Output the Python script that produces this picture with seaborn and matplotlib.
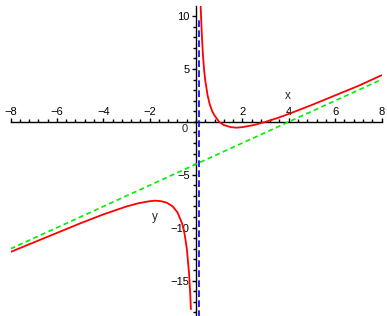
import matplotlib
matplotlib.use("Agg")
import matplotlib.pyplot as plt
import seaborn as sns
import pandas as pd
from matplotlib.ticker import MultipleLocator, FixedLocator

# ---- data ----
right_x = [0.2, 0.25, 0.3, 0.35, 0.4, 0.5, 0.6, 0.7, 0.8, 1.0, 1.2, 1.5, 1.75,
           2.0, 2.5, 3.0, 3.5, 4.0, 5.0, 6.0, 7.0, 8.0]
right_y = [10.9, 8.3, 6.3, 4.9, 3.9, 2.5, 1.6, 1.0, 0.6, 0.0, -0.3, -0.5, -0.55,
           -0.5, -0.3, 0.0, 0.35, 0.75, 1.6, 2.5, 3.4, 4.4]
left_x = [-8.0, -7.0, -6.0, -5.0, -4.0, -3.0, -2.5, -2.0, -1.75, -1.5, -1.25,
          -1.0, -0.8, -0.6, -0.5, -0.4, -0.3, -0.25, -0.22]
left_y = [-12.3, -11.4, -10.5, -9.6, -8.75, -8.0, -7.7, -7.5, -7.45, -7.5, -7.65,
          -8.0, -8.55, -9.6, -10.5, -11.9, -14.3, -16.2, -17.7]
slant_x = [-8.0, 8.0]
slant_y = [-12.0, 4.0]
vert_x = [0.12, 0.12]
vert_y = [-19.0, 9.6]
x_ticks = [-8, -6, -4, -2, 2, 4, 6, 8]
y_ticks = [-15, -10, -5, 5, 10]
x_range = [-8, 8]
y_range = [-18.35, 10.95]

sns.set_style("white")
plt.rcParams['font.family'] = ['Liberation Sans', 'DejaVu Sans']

fig = plt.figure(figsize=(3.87, 3.16), dpi=100)
ax = fig.add_axes([10.5 / 387, 0, 371 / 387, 310 / 316])
ax.set_xlim(*x_range)
ax.set_ylim(*y_range)
ax.patch.set_alpha(0)

sns.lineplot(x=slant_x, y=slant_y, ax=ax, color='#00f000', lw=1.2,
             linestyle=(0, (3, 2)), sort=False, estimator=None, zorder=3)
sns.lineplot(x=vert_x, y=vert_y, ax=ax, color='#0000ff', lw=1.2,
             linestyle=(0, (4, 2)), sort=False, estimator=None, zorder=3)
sns.lineplot(x=left_x, y=left_y, ax=ax, color='#ff0000', lw=1.3,
             sort=False, estimator=None, zorder=4)
sns.lineplot(x=right_x, y=right_y, ax=ax, color='#ff0000', lw=1.3,
             sort=False, estimator=None, zorder=4)

# axes through the origin
ax.spines['bottom'].set_visible(False)
ax.spines['right'].set_visible(False)
ax.spines['top'].set_position(('data', 0))
ax.spines['left'].set_position(('data', 0))
for s in ('top', 'left'):
    ax.spines[s].set_color('black')
    ax.spines[s].set_linewidth(1.0)
    ax.spines[s].set_zorder(2)

ax.xaxis.set_major_locator(FixedLocator(x_ticks))
ax.xaxis.set_minor_locator(MultipleLocator(0.4))
ax.yaxis.set_major_locator(FixedLocator(y_ticks))
ax.yaxis.set_minor_locator(MultipleLocator(1))
ax.tick_params(axis='x', which='both', top=True, bottom=False, labeltop=True,
               labelbottom=False, direction='out', colors='black', labelsize=8,
               pad=0.5, width=1)
ax.tick_params(axis='y', which='both', left=True, right=False, direction='out',
               colors='black', labelsize=8, pad=1.5, width=1)
ax.tick_params(which='major', length=3)
ax.tick_params(which='minor', length=2.5)
ax.set_xlabel('')
ax.set_ylabel('')

ax.annotate('0', xy=(0, 0), xytext=(-8, -7), textcoords='offset pixels',
            ha='right', va='center', fontsize=8)
ax.text(3.97, 2.48, 'x', ha='center', va='center', fontsize=8.5)
ax.text(-1.77, -9.0, 'y', ha='center', va='center', fontsize=8.5)

fig.savefig('out.png', dpi=100)
